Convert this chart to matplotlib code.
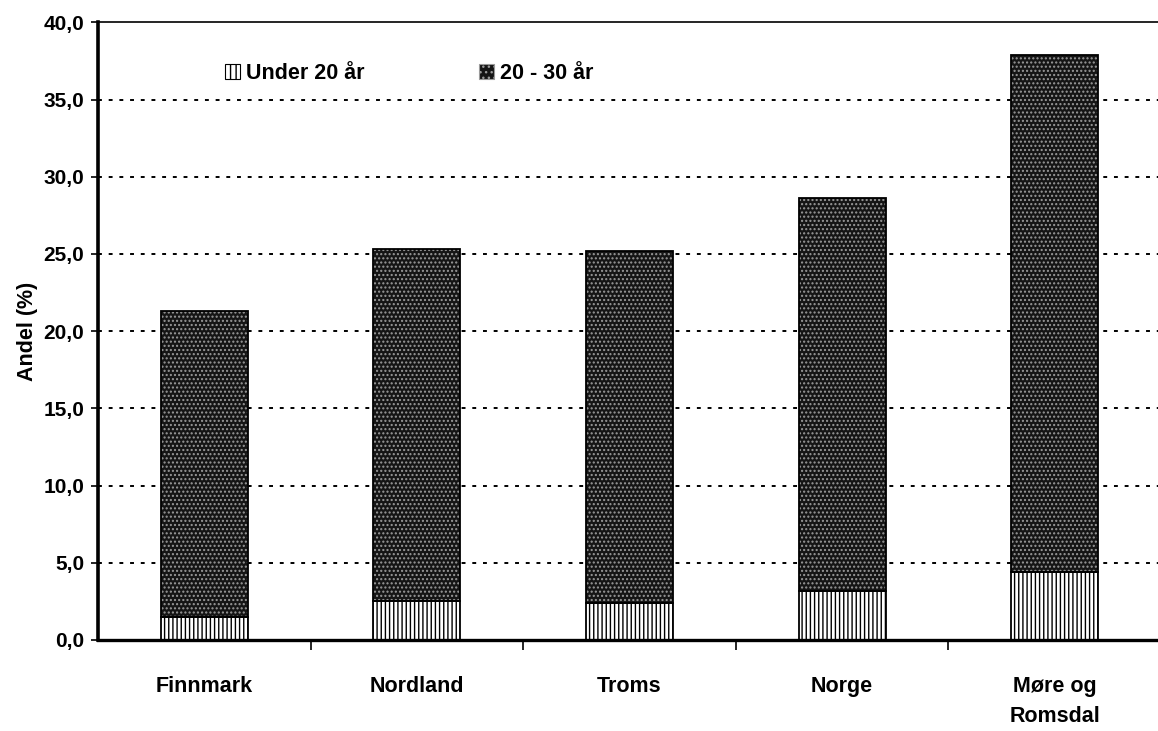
import matplotlib
matplotlib.use("Agg")
import matplotlib.pyplot as plt
import numpy as np
from matplotlib.patches import Patch

categories = ["Finnmark", "Nordland", "Troms", "Norge", "Møre og\nRomsdal"]
under20 = [1.5, 2.5, 2.4, 3.2, 4.4]
total = [21.3, 25.3, 25.2, 28.6, 37.9]
age20_30 = [t - u for t, u in zip(total, under20)]
yticks = [0, 5, 10, 15, 20, 25, 30, 35, 40]
ytick_labels = ["0,0", "5,0", "10,0", "15,0", "20,0", "25,0", "30,0", "35,0", "40,0"]
series_labels = ["Under 20 år", "20 - 30 år"]

plt.rcParams['font.family'] = ['Liberation Sans', 'DejaVu Sans']
plt.rcParams['hatch.linewidth'] = 1.0

fig = plt.figure(figsize=(11.58, 7.31), dpi=100)
ax = fig.add_axes([0.0846, 0.1245, 0.918, 0.845])

x = np.arange(len(categories))
w = 0.41

# grid lines
for yv in yticks[1:-1]:
    ax.axhline(yv, color='black', lw=1.4, ls=(0, (2, 3.5)), zorder=1)

dark = '#151515'
dots = '#9a9a9a'
# under 20: vertical stripes
ax.bar(x, under20, w, color='white', edgecolor='black', hatch='||||', lw=0, zorder=2)
# 20-30: dark dotted
ax.bar(x, age20_30, w, bottom=under20, color=dark, edgecolor=dots, hatch='....', lw=0, zorder=2)
# outlines
ax.bar(x, under20, w, fill=False, edgecolor='black', lw=1.3, zorder=3)
ax.bar(x, age20_30, w, bottom=under20, fill=False, edgecolor='black', lw=1.3, zorder=3)

ax.set_xlim(-0.5, 4.5)
ax.set_ylim(0, 40)
ax.set_yticks(yticks)
ax.set_yticklabels(ytick_labels, fontsize=15, fontweight='bold')
ax.set_xticks(x)
ax.set_xticklabels(categories, fontsize=15.5, fontweight='bold', va='top')
ax.tick_params(axis='x', length=0, pad=26)
ax.set_xticks(np.arange(0.5, 4.5, 1), minor=True)
ax.tick_params(axis='x', which='minor', length=7, width=1.2, direction='out')
ax.tick_params(axis='y', length=5, width=1.2, direction='out', pad=5)
for lab in ax.get_xticklabels():
    lab.set_linespacing(1.55)

ax.set_ylabel("Andel (%)", fontsize=15.5, fontweight='bold', labelpad=4)

ax.spines['left'].set_linewidth(2.6)
ax.spines['bottom'].set_linewidth(2.4)
ax.spines['top'].set_linewidth(1.2)
ax.spines['right'].set_visible(False)

# legend
handles = [Patch(facecolor='white', edgecolor='black', hatch='|||', lw=0.8),
           Patch(facecolor=dark, edgecolor=dots, hatch='...', lw=0.8)]
leg = ax.legend(handles, series_labels, loc='upper left', bbox_to_anchor=(0.101, 0.966),
                ncol=2, frameon=False, prop={'weight': 'bold', 'size': 15.5},
                handlelength=0.7, handleheight=0.7, handletextpad=0.3, columnspacing=5.3)

fig.savefig("out.png", dpi=100)
